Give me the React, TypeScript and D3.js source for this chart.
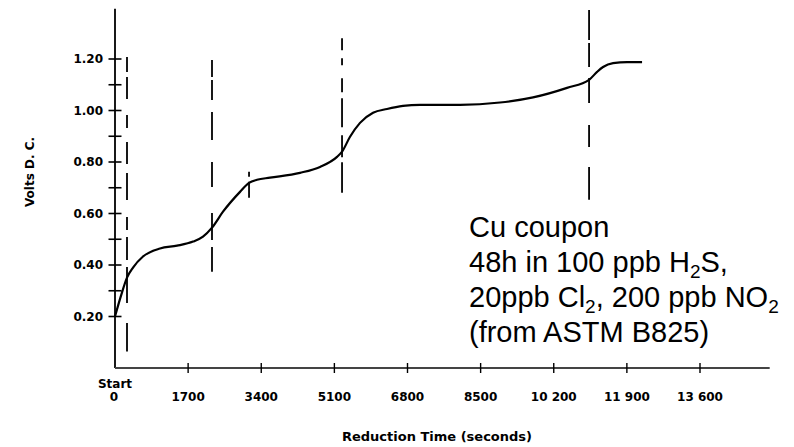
import React from "react";
import * as d3 from "d3";

// ---- data ----
const curveTime = [0, 140, 279, 419, 651, 1046, 1442, 1814, 2046, 2255, 2511, 2906, 3116, 3302, 3604, 4301, 4766, 5162, 5278, 5464, 5696, 5999, 6324, 6696, 7091, 8021, 8951, 9719, 10509, 11021, 11207, 11346, 11579, 11904, 12253];
const curveVolts = [0.2, 0.281, 0.351, 0.39, 0.433, 0.464, 0.475, 0.491, 0.51, 0.545, 0.607, 0.684, 0.719, 0.731, 0.739, 0.758, 0.781, 0.82, 0.84, 0.898, 0.952, 0.991, 1.006, 1.018, 1.022, 1.022, 1.031, 1.051, 1.088, 1.119, 1.15, 1.169, 1.184, 1.188, 1.188];

const markerTime = [279, 2255, 3116, 5278, 11021];
const markerTop = [1.208, 1.196, 0.762, 1.281, 1.39];
const markerBottom = [0.064, 0.374, 0.661, 0.681, 0.653];

const xTickValues = [1700, 3400, 5100, 6800, 8500, 10200, 11900, 13600];
const xTickLabels = ["1700", "3400", "5100", "6800", "8500", "10 200", "11 900", "13 600"];
const yTickValues = [0.2, 0.3, 0.4, 0.5, 0.6, 0.7, 0.8, 0.9, 1.0, 1.1, 1.2];
const yLabelValues = [0.2, 0.4, 0.6, 0.8, 1.0, 1.2];

const xTitle = "Reduction Time (seconds)";
const yTitle = "Volts D. C.";

// ---- styles ----
const markerDash = [
  "15 5 22 16 13 14 22 9 27 17 13 7 23 7 36 20 29",
  "17 3 20 12 28 22 25 26 27 7 25",
  "5 5 16",
  "12 8 7 13 14 6 29 8 22 5 31",
  "30 3 24 11 25 22 22 20 33",
];

const W = 794;
const H = 447;

export default function App() {
  const x = d3.scaleLinear().domain([0, 13600]).range([115, 700]);
  const y = d3.scaleLinear().domain([0, 1.2]).range([368, 59]);
  const xAxisEnd = 15220;
  const yAxisEnd = 1.395;

  const pts: [number, number][] = curveTime.map((t, i) => [t, curveVolts[i]]);
  const line = d3
    .line<[number, number]>()
    .x((d) => x(d[0]))
    .y((d) => y(d[1]))
    .curve(d3.curveMonotoneX);

  const bold = { fontFamily: "'DejaVu Sans', Verdana, sans-serif", fontWeight: 700 as const };
  const arial = { fontFamily: "'Liberation Sans', Arial, sans-serif" };
  const ann = 29;
  const sub = 19;

  return (
    <svg width={W} height={H} style={{ position: "absolute", left: 0, top: 0, background: "#fff" }}>
      {/* axes */}
      <line x1={x(0)} x2={x(0)} y1={y(0)} y2={y(yAxisEnd)} stroke="#000" strokeWidth={1.8} />
      <line x1={x(0)} x2={x(xAxisEnd)} y1={y(0)} y2={y(0)} stroke="#444" strokeWidth={1.8} />
      {yTickValues.map((v) => (
        <line key={"yt" + v} x1={x(0) - 6.5} x2={x(0) + 6.5} y1={y(v)} y2={y(v)} stroke="#000" strokeWidth={1.6} />
      ))}
      {yLabelValues.map((v) => (
        <text key={"yl" + v} x={103} y={y(v)} dy="0.36em" textAnchor="end" fontSize={12} {...bold} fill="#000">
          {v.toFixed(2)}
        </text>
      ))}
      {xTickValues.map((v) => (
        <line key={"xt" + v} x1={x(v)} x2={x(v)} y1={y(0) - 5} y2={y(0) + 5} stroke="#000" strokeWidth={1.4} />
      ))}
      {xTickValues.map((v, i) => (
        <text key={"xl" + v} x={x(v)} y={401} textAnchor="middle" fontSize={12} {...bold} fill="#000">
          {xTickLabels[i]}
        </text>
      ))}
      <text x={x(0)} y={388} textAnchor="middle" fontSize={12} {...bold} fill="#000">Start</text>
      <text x={x(0) - 1} y={401} textAnchor="middle" fontSize={12} {...bold} fill="#000">0</text>

      <text x={437} y={441} textAnchor="middle" fontSize={13} {...bold} fill="#000">{xTitle}</text>
      <text transform="translate(34,172) rotate(-90)" textAnchor="middle" fontSize={12} {...bold} fill="#000">{yTitle}</text>

      {/* marker dashed lines */}
      {markerTime.map((t, i) => (
        <line
          key={"m" + i}
          x1={x(t)}
          x2={x(t)}
          y1={y(markerTop[i])}
          y2={y(markerBottom[i])}
          stroke="#000"
          strokeWidth={1.8}
          strokeDasharray={markerDash[i]}
        />
      ))}

      {/* curve */}
      <path d={line(pts) || ""} fill="none" stroke="#000" strokeWidth={2.2} />

      {/* annotation */}
      <g {...arial} fontSize={ann} fill="#000">
        <text x={469} y={237}>Cu coupon</text>
        <text x={469} y={272}>
          48h in 100 ppb H<tspan fontSize={sub} dy={6}>2</tspan>
          <tspan dy={-6}>S,</tspan>
        </text>
        <text x={469} y={307}>
          20ppb Cl<tspan fontSize={sub} dy={6}>2</tspan>
          <tspan dy={-6}>, 200 ppb NO</tspan>
          <tspan fontSize={sub} dy={6}>2</tspan>
        </text>
        <text x={469} y={342}>(from ASTM B825)</text>
      </g>
    </svg>
  );
}
